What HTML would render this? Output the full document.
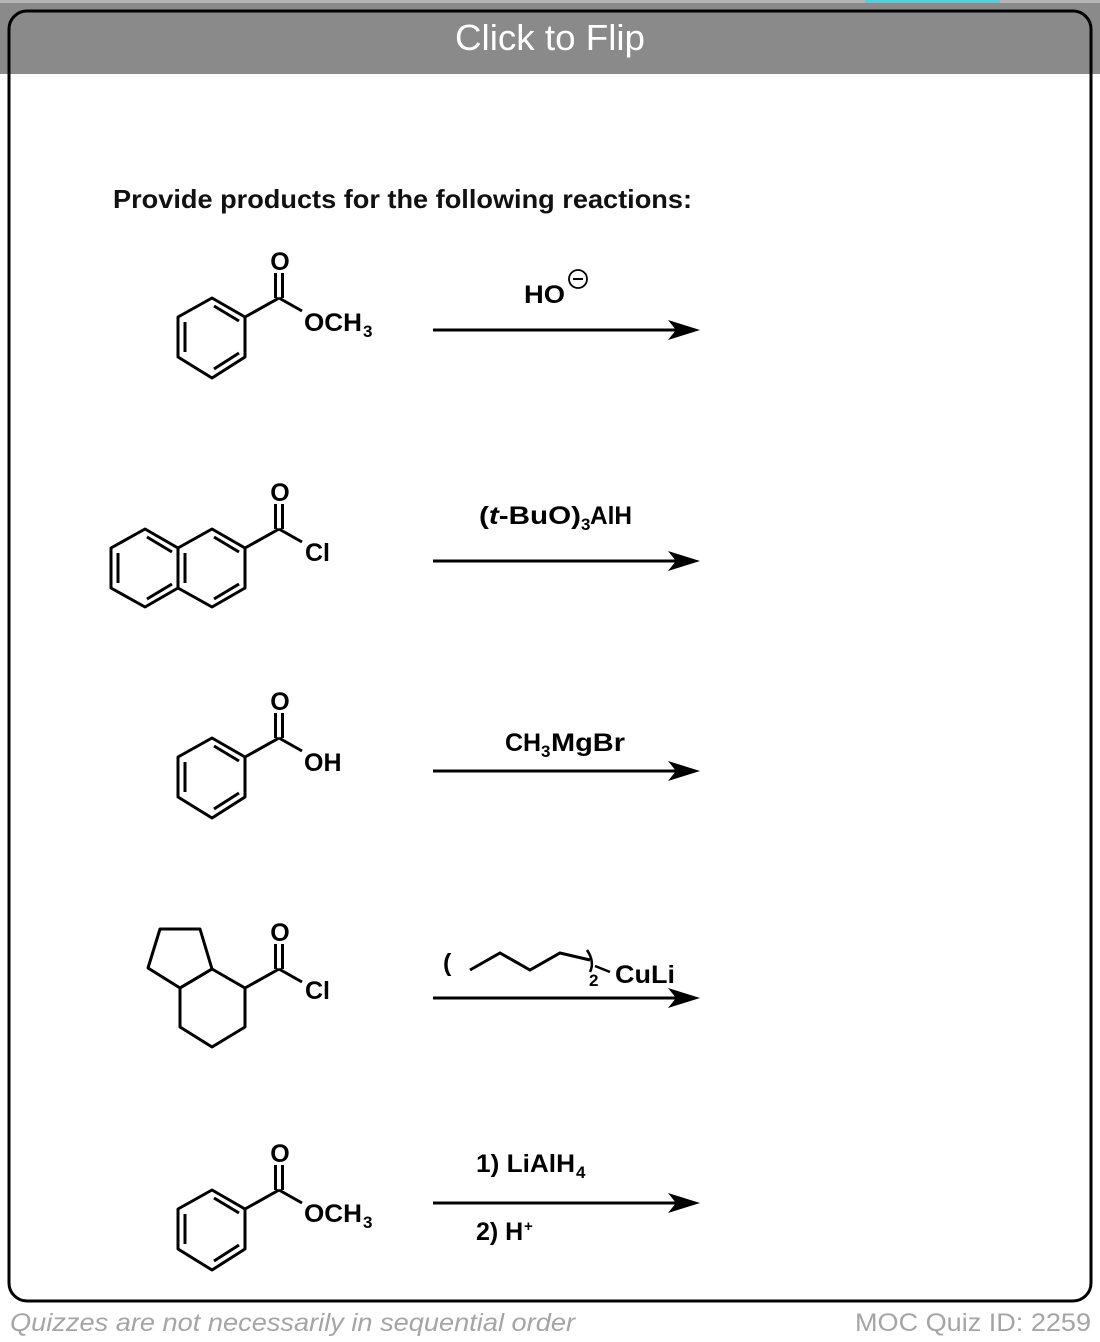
<!DOCTYPE html>
<html><head><meta charset="utf-8"><style>
html,body{margin:0;padding:0;background:#fff;}
body{width:1100px;height:1342px;position:relative;overflow:hidden;font-family:"Liberation Sans",sans-serif;}
</style></head><body>
<svg width="1100" height="1342" viewBox="0 0 1100 1342" xmlns="http://www.w3.org/2000/svg" style="position:absolute;left:0;top:0">
<rect x="0" y="0" width="1100" height="74" fill="#8a8a8a"/>
<rect x="0" y="0" width="1100" height="3" fill="#b5b5b5"/>
<rect x="865" y="0" width="135" height="3" fill="#4fd2e0"/>
<rect x="9" y="11" width="1082" height="1290" rx="18" fill="none" stroke="#000" stroke-width="3"/>
<rect x="11" y="13" width="1078" height="60" rx="16" fill="#8a8a8a"/>
<rect x="11" y="40" width="1078" height="34" fill="#8a8a8a"/>
<text x="455" y="50" textLength="190" lengthAdjust="spacingAndGlyphs" fill="#fff" font-size="36" font-family="Liberation Sans, sans-serif">Click to Flip</text>
<text x="113" y="208" font-size="26" font-weight="bold" fill="#111" textLength="579" lengthAdjust="spacingAndGlyphs">Provide products for the following reactions:</text>

<defs>
<g id="bz" fill="none" stroke="#000" stroke-width="3" stroke-linejoin="round">
<polygon points="212,298 245,317 245,357 212,378 178,357 178,317"/>
<line x1="185" y1="322" x2="185" y2="352"/>
<line x1="214" y1="306" x2="239" y2="321"/>
<line x1="239" y1="353" x2="214" y2="369"/>
<line x1="245" y1="317" x2="279" y2="298"/>
<line x1="279" y1="298" x2="302" y2="311"/>
<line x1="275.5" y1="298" x2="275.5" y2="273"/>
<line x1="282.5" y1="298" x2="282.5" y2="273"/>
</g>
</defs>
<use href="#bz"/>
<use href="#bz" transform="translate(0,440)"/>
<use href="#bz" transform="translate(0,892)"/>
<g font-size="25" font-weight="bold" fill="#000">
<text x="280" y="270" text-anchor="middle">O</text>
<text x="304" y="331" textLength="58" lengthAdjust="spacingAndGlyphs">OCH</text><text x="363" y="337" font-size="17">3</text>
<text x="280" y="710" text-anchor="middle">O</text>
<text x="304" y="771">OH</text>
<text x="280" y="1162" text-anchor="middle">O</text>
<text x="304" y="1222" textLength="58" lengthAdjust="spacingAndGlyphs">OCH</text><text x="363" y="1228" font-size="17">3</text>
</g>

<!-- naphthalene -->
<g fill="none" stroke="#000" stroke-width="3" stroke-linejoin="round">
<polygon points="212,529 245,548 245,588 212,607 178,588 178,548"/>
<polygon points="145,529 178,548 178,588 145,607 111,588 111,548"/>
<line x1="185" y1="553" x2="185" y2="583"/>
<line x1="214" y1="537" x2="239" y2="552"/>
<line x1="239" y1="584" x2="214" y2="599"/>
<line x1="118" y1="553" x2="118" y2="583"/>
<line x1="147" y1="537" x2="172" y2="552"/>
<line x1="172" y1="584" x2="147" y2="599"/>
<line x1="245" y1="548" x2="279" y2="529"/>
<line x1="279" y1="529" x2="302" y2="542"/>
<line x1="275.5" y1="529" x2="275.5" y2="504"/>
<line x1="282.5" y1="529" x2="282.5" y2="504"/>
</g>
<g font-size="25" font-weight="bold">
<text x="280" y="501" text-anchor="middle">O</text>
<text x="305" y="561">Cl</text>
</g>

<!-- hydrindane -->
<g fill="none" stroke="#000" stroke-width="3" stroke-linejoin="round">
<polygon points="160,929 200,929 212,969 180,988 148,968"/>
<polygon points="212,969 245,988 245,1027 212,1047 180,1027 180,988"/>
<line x1="245" y1="988" x2="279" y2="969"/>
<line x1="279" y1="969" x2="302" y2="982"/>
<line x1="275.5" y1="969" x2="275.5" y2="944"/>
<line x1="282.5" y1="969" x2="282.5" y2="944"/>
</g>
<g font-size="25" font-weight="bold">
<text x="280" y="941" text-anchor="middle">O</text>
<text x="305" y="999">Cl</text>
</g>

<!-- arrows -->
<g stroke="#000" stroke-width="3">
<line x1="433" y1="330" x2="680" y2="330"/>
<line x1="433" y1="561" x2="680" y2="561"/>
<line x1="433" y1="771" x2="680" y2="771"/>
<line x1="433" y1="998" x2="680" y2="998"/>
<line x1="433" y1="1203" x2="680" y2="1203"/>
</g>
<g fill="#000">
<path d="M700,330 L668,320 L676,330 L668,340 Z"/>
<path d="M700,561 L668,551 L676,561 L668,571 Z"/>
<path d="M700,771 L668,761 L676,771 L668,781 Z"/>
<path d="M700,998 L668,988 L676,998 L668,1008 Z"/>
<path d="M700,1203 L668,1193 L676,1203 L668,1213 Z"/>
</g>

<g font-size="25" font-weight="bold">
<text x="524" y="303" textLength="41" lengthAdjust="spacingAndGlyphs">HO</text>
<circle cx="578" cy="279" r="9" fill="none" stroke="#000" stroke-width="1.8"/>
<line x1="573" y1="279" x2="583" y2="279" stroke="#000" stroke-width="2"/>
<text x="479" y="524" textLength="102" lengthAdjust="spacingAndGlyphs">(<tspan font-style="italic">t</tspan>-BuO)</text><text x="581" y="530" font-size="17">3</text><text x="590" y="524" textLength="42" lengthAdjust="spacingAndGlyphs">AlH</text>
<text x="505" y="751">CH</text><text x="541" y="757" font-size="17">3</text><text x="551" y="751" textLength="74" lengthAdjust="spacingAndGlyphs">MgBr</text>
<text x="443" y="971">(</text>
<text x="615" y="983" textLength="60" lengthAdjust="spacingAndGlyphs">CuLi</text>
<text x="589" y="986" font-size="17">2</text>
<text x="476" y="1172" textLength="99" lengthAdjust="spacingAndGlyphs">1) LiAlH</text><text x="576" y="1178" font-size="17">4</text>
<text x="476" y="1240">2) H</text><text x="524" y="1231" font-size="15">+</text>
</g>
<polyline points="470,970 500,953 530,970 560,953 590,960" fill="none" stroke="#000" stroke-width="3"/>
<path d="M587,950 Q595,962 590,972" fill="none" stroke="#000" stroke-width="2.5"/>
<line x1="595" y1="966" x2="610" y2="972" stroke="#000" stroke-width="2.5"/>

<text x="10" y="1331" font-size="25" font-style="italic" fill="#a5a5a5" textLength="565" lengthAdjust="spacingAndGlyphs">Quizzes are not necessarily in sequential order</text>
<text x="855" y="1331" font-size="25" fill="#a5a5a5" textLength="236" lengthAdjust="spacingAndGlyphs">MOC Quiz ID: 2259</text>
</svg>
</body></html>
